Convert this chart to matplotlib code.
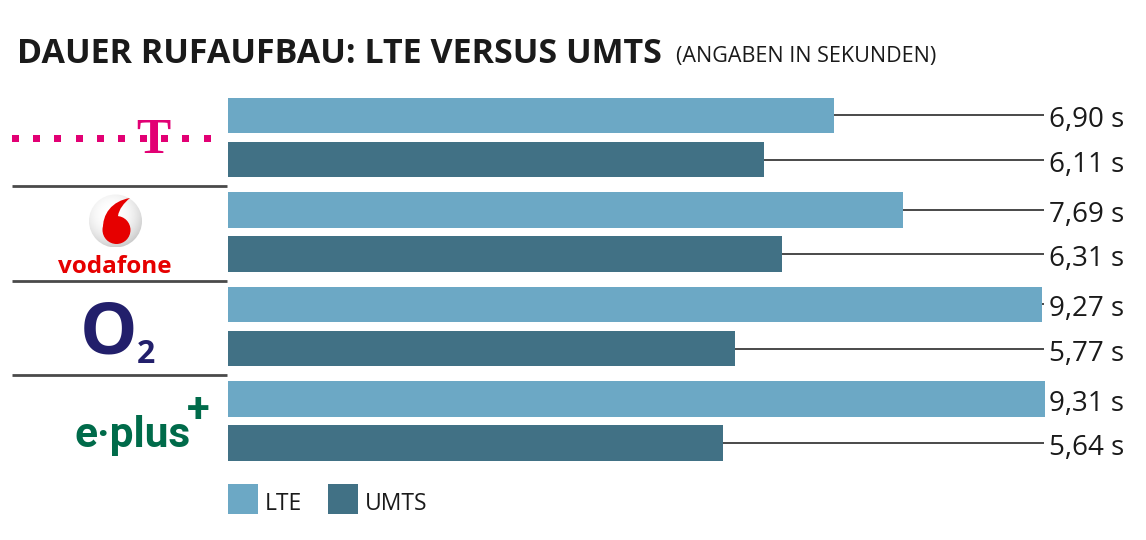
import numpy as np
import matplotlib
matplotlib.use('Agg')
import matplotlib.pyplot as plt
from matplotlib.patches import Rectangle, Circle, PathPatch
from matplotlib.path import Path

# ---------------- data ----------------
carriers = ['Telekom', 'Vodafone', 'O2', 'E-Plus']
series = ['LTE', 'UMTS']
lte = [6.90, 7.69, 9.27, 9.31]
umts = [6.11, 6.31, 5.77, 5.64]
title = 'DAUER RUFAUFBAU: LTE VERSUS UMTS'
subtitle = '(ANGABEN IN SEKUNDEN)'

# ---------------- style ----------------
C_LTE = '#6ca8c5'
C_UMTS = '#417185'
C_TEXT = '#1a1a1a'
C_LINE = '#3a3a3a'
FONT = ['Open Sans', 'DejaVu Sans']

W, H = 1146, 540
fig = plt.figure(figsize=(W / 100, H / 100), dpi=100)

# overlay axes in pixel coordinates (y downwards)
ov = fig.add_axes([0, 0, 1, 1])
ov.axis('off')
ov.set_xlim(0, W)
ov.set_ylim(H, 0)

# bar axes
PX_PER_S = 87.8
ax_left, ax_right, ax_top, ax_bot = 228, W, 90, 470
ax = fig.add_axes([ax_left / W, 1 - ax_bot / H, (ax_right - ax_left) / W, (ax_bot - ax_top) / H])
ax.set_xlim(0, (ax_right - ax_left) / PX_PER_S)
group_px, first_center = 94.5, 137.5
ax.set_ylim((ax_bot - first_center) / group_px, (ax_top - first_center) / group_px)
ax.axis('off')

y = np.arange(len(carriers))
off, bh = 0.233, 0.38
ax.barh(y - off, lte, height=bh, color=C_LTE)
ax.barh(y + off, umts, height=bh, color=C_UMTS)

line_end = (1044 - ax_left) / PX_PER_S
label_x = (1124 - ax_left) / PX_PER_S
for vals, dy in ((lte, -off), (umts, off)):
    for yi, v in zip(y, vals):
        yy = yi + dy
        if v < line_end:
            ax.plot([v, line_end], [yy, yy], color=C_LINE, lw=1.3, solid_capstyle='butt')
        ax.annotate(f'{v:.2f}'.replace('.', ',') + ' s', xy=(label_x, yy),
                    xytext=(0, -12), textcoords='offset pixels',
                    ha='right', va='baseline', fontsize=20, color=C_TEXT, family=FONT)

# ---------------- title ----------------
t = ov.text(17, 63, title, fontsize=24.5, weight='bold', color=C_TEXT, family=FONT, va='baseline')
fig.canvas.draw()
bb = t.get_window_extent()
ov.text(bb.x1 + 14, 62, subtitle, fontsize=15.5, color=C_TEXT, family=FONT, va='baseline')

# ---------------- separators ----------------
for sy in (186, 281, 375):
    ov.plot([12, 227], [sy, sy], color='#4a4a4a', lw=2, solid_capstyle='butt')

# ---------------- Telekom logo ----------------
MAG = '#e20074'
for dx in np.linspace(15, 207, 10):
    ov.add_patch(Rectangle((dx - 3.5, 134.5), 7, 7, color=MAG, lw=0))
ov.text(153.5, 153, 'T', fontsize=37, weight='bold', color=MAG,
        family=['Liberation Serif', 'DejaVu Serif'], ha='center', va='baseline')

# ---------------- Vodafone logo ----------------
cx, cy, r = 115.5, 221, 26.5
n = 200
gy, gx = np.mgrid[-1:1:n * 1j, -1:1:n * 1j]
d = np.sqrt((gx + 0.15) ** 2 + (gy + 0.25) ** 2)
shade = 1 - 0.25 * np.clip(d / 1.4, 0, 1) ** 2.5
im = ov.imshow(shade, cmap='gray', vmin=0, vmax=1, extent=(cx - r, cx + r, cy + r, cy - r),
               origin='upper', aspect='auto', interpolation='bilinear')
clip = Circle((cx, cy), r, transform=ov.transData, facecolor='none', edgecolor='none')
ov.add_patch(clip)
im.set_clip_path(clip)
RED = '#e60000'
ov.add_patch(Circle((116.5, 230), 14, color=RED, lw=0))
verts = [(103, 230), (102, 214), (112, 201), (130, 198),
         (124, 203), (119, 209), (118, 216), (103, 230)]
codes = [Path.MOVETO, Path.CURVE4, Path.CURVE4, Path.CURVE4,
         Path.CURVE4, Path.CURVE4, Path.CURVE4, Path.LINETO]
ov.add_patch(PathPatch(Path(verts, codes), color=RED, lw=0))
ov.text(115, 273, 'vodafone', fontsize=17.5, weight='bold', color=RED, family=FONT,
        ha='center', va='baseline')

# ---------------- O2 logo ----------------
NAVY = '#221f6b'
ov.text(109, 353, 'O', fontsize=52, weight='bold', color=NAVY, family=FONT,
        ha='center', va='baseline')
ov.text(146, 363, '2', fontsize=23, weight='bold', color=NAVY, family=FONT,
        ha='center', va='baseline')

# ---------------- E-Plus logo ----------------
GREEN = '#006b4a'
NARROW = ['Liberation Sans Narrow', 'Roboto', 'DejaVu Sans']
ov.text(133, 447, 'e·plus', fontsize=30.5, weight='bold', color=GREEN, family=NARROW,
        ha='center', va='baseline')
ov.text(198, 422, '+', fontsize=30, weight='bold', color=GREEN, family=NARROW,
        ha='center', va='baseline')

# ---------------- legend ----------------
lx = 228
for name, col in zip(series, (C_LTE, C_UMTS)):
    ov.add_patch(Rectangle((lx, 484), 30, 30, color=col, lw=0))
    ov.text(lx + 37, 510, name, fontsize=16.5, color=C_TEXT, family=FONT, va='baseline')
    lx += 100

ov.set_xlim(0, W)
ov.set_ylim(H, 0)

fig.savefig('out.png', dpi=100)
